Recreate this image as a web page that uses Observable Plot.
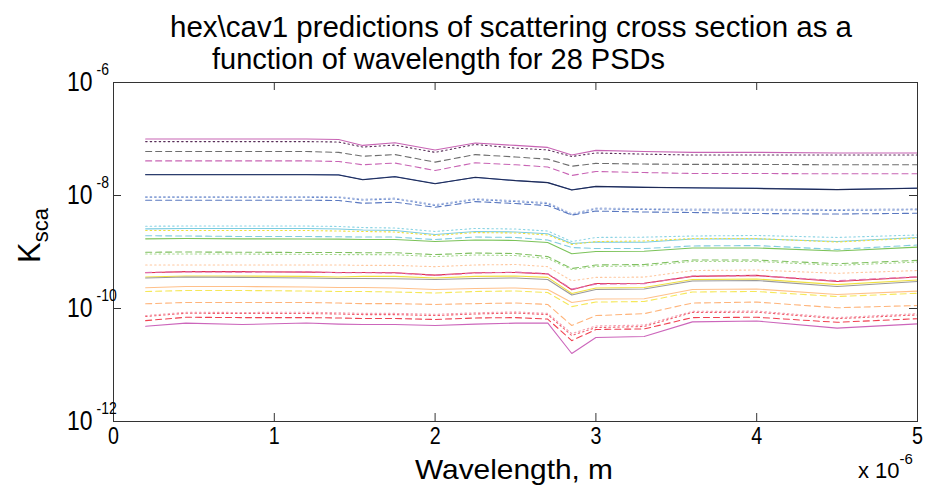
<!DOCTYPE html>
<html><head><meta charset="utf-8">
<script src="https://cdn.jsdelivr.net/npm/d3@7"></script>
<script src="https://cdn.jsdelivr.net/npm/@observablehq/plot@0.6"></script>
<style>body{margin:0;background:#fff;} svg{display:block}</style>
</head><body><div id="chart"></div>
<script>
// ---------- texts ----------
const titleLines = ["hex\\cav1 predictions of scattering cross section as a", "function of wavelength for 28 PSDs"];
const xLabel = "Wavelength, m";
const xMultiplier = ["x 10", "-6"];
const yLabel = ["K", "sca"];

// ---------- ticks ----------
const xTicks = [0, 1e-6, 2e-6, 3e-6, 4e-6, 5e-6];
const yTicks = [1e-12, 1e-10, 1e-8, 1e-6];

// ---------- data: wavelength (micrometres) and K_sca for 28 PSDs ----------
const wavelengthUm = [0.2, 0.45, 0.8, 1.2, 1.4, 1.55, 1.75, 2.0, 2.25, 2.5, 2.7, 2.85, 3.0, 3.3, 3.6, 4.0, 4.5, 5.0];

const psd01 = [1.0e-7,1.0e-7,1.0e-7,1.0e-7,9.8e-8,7.7e-8,8.6e-8,6.4e-8,8.5e-8,7.7e-8,7.1e-8,5.2e-8,6.3e-8,6.0e-8,5.8e-8,5.8e-8,5.65e-8,5.65e-8];
const psd02 = [9.0e-8,9.0e-8,9.0e-8,9.0e-8,8.85e-8,7.2e-8,7.8e-8,5.8e-8,8.0e-8,6.9e-8,6.4e-8,4.9e-8,5.65e-8,5.4e-8,5.2e-8,5.2e-8,5.2e-8,5.2e-8];
const psd03 = [6.0e-8,6.0e-8,6.0e-8,6.0e-8,5.8e-8,4.95e-8,5.3e-8,3.9e-8,5.3e-8,4.8e-8,4.4e-8,3.3e-8,3.7e-8,3.6e-8,3.55e-8,3.55e-8,3.5e-8,3.5e-8];
const psd04 = [4.1e-8,4.1e-8,4.1e-8,4.1e-8,4.0e-8,3.5e-8,3.75e-8,2.77e-8,3.8e-8,3.5e-8,3.2e-8,2.26e-8,2.66e-8,2.55e-8,2.45e-8,2.45e-8,2.42e-8,2.42e-8];
const psd05 = [2.35e-8,2.35e-8,2.35e-8,2.35e-8,2.33e-8,1.92e-8,2.17e-8,1.63e-8,2.08e-8,1.84e-8,1.70e-8,1.26e-8,1.44e-8,1.40e-8,1.36e-8,1.35e-8,1.28e-8,1.35e-8];
const psd06 = [2.33e-8,2.33e-8,2.33e-8,2.33e-8,2.3e-8,1.9e-8,2.15e-8,1.61e-8,2.1e-8,1.83e-8,1.69e-8,1.25e-8,1.45e-8,1.39e-8,1.37e-8,1.33e-8,1.27e-8,1.34e-8];
const psd07 = [9.3e-9,9.3e-9,9.3e-9,9.3e-9,9.2e-9,8.3e-9,8.7e-9,6.65e-9,8.5e-9,7.8e-9,7.2e-9,4.55e-9,5.8e-9,5.65e-9,5.55e-9,5.55e-9,5.45e-9,5.6e-9];
const psd08 = [9.6e-9,9.6e-9,9.6e-9,9.6e-9,9.5e-9,8.6e-9,9.0e-9,6.9e-9,8.8e-9,8.1e-9,7.5e-9,4.75e-9,6.0e-9,5.85e-9,5.75e-9,5.75e-9,5.65e-9,5.8e-9];
const psd09 = [8.25e-9,8.25e-9,8.25e-9,8.25e-9,8.15e-9,7.3e-9,7.6e-9,6.2e-9,7.8e-9,7.2e-9,6.65e-9,4.5e-9,5.3e-9,5.1e-9,5.0e-9,4.8e-9,4.7e-9,4.85e-9];
const psd10 = [2.86e-9,2.88e-9,2.88e-9,2.88e-9,2.83e-9,2.71e-9,2.66e-9,2.31e-9,2.61e-9,2.55e-9,2.35e-9,1.53e-9,1.81e-9,1.83e-9,1.92e-9,1.96e-9,1.81e-9,2.0e-9];
const psd11 = [2.57e-9,2.6e-9,2.6e-9,2.6e-9,2.55e-9,2.45e-9,2.4e-9,2.04e-9,2.31e-9,2.26e-9,2.1e-9,1.41e-9,1.5e-9,1.49e-9,1.7e-9,1.71e-9,1.53e-9,1.81e-9];
const psd12 = [2.4e-9,2.4e-9,2.4e-9,2.4e-9,2.35e-9,2.31e-9,2.26e-9,1.96e-9,2.21e-9,2.17e-9,2.0e-9,1.36e-9,1.53e-9,1.57e-9,1.73e-9,1.73e-9,1.5e-9,1.77e-9];
const psd13 = [1.94e-9,1.92e-9,1.88e-9,1.88e-9,1.86e-9,1.84e-9,1.84e-9,1.66e-9,1.84e-9,1.81e-9,1.63e-9,1.2e-9,1.15e-9,1.15e-9,1.28e-9,1.3e-9,1.11e-9,1.33e-9];
const psd14 = [1.71e-9,1.73e-9,1.71e-9,1.7e-9,1.69e-9,1.66e-9,1.66e-9,1.53e-9,1.63e-9,1.6e-9,1.47e-9,9.3e-10,1.02e-9,1.03e-9,1.18e-9,1.18e-9,1.04e-9,1.22e-9];
const psd15 = [9.9e-10,1.0e-9,9.9e-10,9.8e-10,9.8e-10,9.7e-10,9.7e-10,9.0e-10,9.6e-10,9.4e-10,8.3e-10,5.1e-10,5.9e-10,6.0e-10,7.2e-10,7.2e-10,6.2e-10,7.1e-10];
const psd16 = [9.2e-10,9.2e-10,9.2e-10,9.1e-10,9.0e-10,9.0e-10,8.95e-10,8.3e-10,8.85e-10,8.65e-10,7.7e-10,4.9e-10,5.55e-10,5.65e-10,6.8e-10,6.8e-10,5.8e-10,6.65e-10];
const psd17 = [5.9e-10,5.9e-10,5.9e-10,5.9e-10,5.9e-10,5.8e-10,5.8e-10,5.5e-10,5.9e-10,6.0e-10,5.5e-10,3.1e-10,3.55e-10,3.6e-10,4.7e-10,4.8e-10,4.2e-10,4.7e-10];
const psd18 = [4.3e-10,4.5e-10,4.5e-10,4.4e-10,4.35e-10,4.35e-10,4.3e-10,3.9e-10,4.3e-10,4.35e-10,4.1e-10,2.14e-10,2.77e-10,2.8e-10,3.7e-10,3.85e-10,3.0e-10,3.6e-10];
const psd19 = [4.35e-10,4.45e-10,4.4e-10,4.45e-10,4.3e-10,4.3e-10,4.25e-10,3.85e-10,4.25e-10,4.4e-10,4.15e-10,2.2e-10,2.7e-10,2.75e-10,3.75e-10,3.8e-10,3.1e-10,3.65e-10];
const psd20 = [3.6e-10,3.75e-10,3.75e-10,3.7e-10,3.6e-10,3.7e-10,3.7e-10,3.47e-10,3.7e-10,3.75e-10,3.55e-10,1.84e-10,2.3e-10,2.35e-10,3.25e-10,3.33e-10,2.65e-10,3.2e-10];
const psd21 = [3.47e-10,3.6e-10,3.55e-10,3.47e-10,3.4e-10,3.4e-10,3.36e-10,3.26e-10,3.4e-10,3.47e-10,3.26e-10,1.73e-10,2.17e-10,2.21e-10,3.07e-10,3.13e-10,2.45e-10,3.0e-10];
const psd22 = [2.33e-10,2.45e-10,2.45e-10,2.4e-10,2.35e-10,2.35e-10,2.31e-10,2.17e-10,2.26e-10,2.31e-10,2.17e-10,1.28e-10,1.47e-10,1.49e-10,2.17e-10,2.21e-10,1.77e-10,2.03e-10];
const psd23 = [2.0e-10,2.08e-10,2.08e-10,2.04e-10,2.0e-10,2.0e-10,1.96e-10,1.88e-10,2.0e-10,2.04e-10,1.92e-10,1.08e-10,1.3e-10,1.33e-10,1.96e-10,2.0e-10,1.63e-10,1.86e-10];
const psd24 = [1.21e-10,1.28e-10,1.28e-10,1.28e-10,1.25e-10,1.22e-10,1.22e-10,1.18e-10,1.22e-10,1.25e-10,1.18e-10,5.0e-11,7.5e-11,8.1e-11,1.25e-10,1.3e-10,1.03e-10,1.13e-10];
const psd25 = [7.5e-11,8.6e-11,8.5e-11,8.6e-11,8.4e-11,8.2e-11,8.2e-11,7.9e-11,8.4e-11,8.7e-11,8.2e-11,3.6e-11,4.9e-11,5.1e-11,8.9e-11,9.0e-11,6.9e-11,8.1e-11];
const psd26 = [7.2e-11,8.25e-11,8.15e-11,8.15e-11,8.0e-11,7.8e-11,7.8e-11,7.5e-11,8.0e-11,8.3e-11,7.8e-11,3.33e-11,4.6e-11,4.8e-11,8.5e-11,8.6e-11,6.6e-11,7.7e-11];
const psd27 = [6.1e-11,7.0e-11,6.9e-11,6.9e-11,6.8e-11,6.65e-11,6.65e-11,6.4e-11,6.8e-11,6.9e-11,6.5e-11,2.7e-11,4.25e-11,4.35e-11,6.9e-11,7.0e-11,5.7e-11,6.6e-11];
const psd28 = [4.86e-11,5.5e-11,5.2e-11,5.55e-11,5.3e-11,5.2e-11,5.2e-11,5.0e-11,5.3e-11,5.5e-11,5.55e-11,1.6e-11,3.07e-11,3.2e-11,5.8e-11,6.0e-11,4.5e-11,5.35e-11];

// line styles (colour, dash pattern) per PSD
const DASH = "6,4", DOT = "1.5,3", SOLID = null;
const series = [
  [psd01, "#c864b4", SOLID], [psd02, "#5a305a", DOT], [psd03, "#6e6e6e", DASH], [psd04, "#c864b4", DASH],
  [psd05, "#5a78bb", SOLID], [psd06, "#1e2a55", SOLID], [psd07, "#6688cc", DOT], [psd08, "#a8b8e0", DOT],
  [psd09, "#5a78c0", DASH], [psd10, "#8cd4e4", DOT], [psd11, "#7acce0", SOLID], [psd12, "#f0e040", DOT],
  [psd13, "#80cce0", DASH], [psd14, "#7cc35a", SOLID], [psd15, "#80c060", DASH], [psd16, "#a8d890", DOT],
  [psd17, "#ffc8a0", DOT], [psd18, "#e0304a", SOLID], [psd19, "#e070b0", DASH], [psd20, "#f0e040", SOLID],
  [psd21, "#9a9a9a", SOLID], [psd22, "#ffc08a", SOLID], [psd23, "#f5e85a", DASH], [psd24, "#ffb47a", DASH],
  [psd25, "#f4a0b0", DOT], [psd26, "#f06070", DOT], [psd27, "#f04050", DASH], [psd28, "#cc66bb", SOLID]
];

// ---------- layout ----------
const W = 927, H = 485, mL = 113, mR = 10, mT = 82, mB = 64;
const plotW = W - mL - mR, plotH = H - mT - mB;
const axisColor = "#333";
const font = "'Liberation Sans', Arial, sans-serif";

const lineMarks = series.map(([vals, color, dash]) =>
  Plot.line(wavelengthUm.map((w, i) => ({x: w * 1e-6, y: vals[i]})),
    {x: "x", y: "y", stroke: color, strokeWidth: 1.1, strokeDasharray: dash})
);

const chart = Plot.plot({
  width: W, height: H,
  marginLeft: mL, marginRight: mR, marginTop: mT, marginBottom: mB,
  x: {domain: [0, 5e-6]},
  y: {type: "log", domain: [1e-12, 1e-6]},
  style: {fontFamily: font, fontSize: "26px", color: "#000", background: "#fff"},
  marks: [
    ...lineMarks,
    Plot.frame({stroke: axisColor}),
    Plot.tickX(xTicks, {x: d => d, insetTop: plotH - 8, stroke: axisColor}),
    Plot.tickX(xTicks, {x: d => d, insetBottom: plotH - 8, stroke: axisColor}),
    Plot.tickY(yTicks, {y: d => d, insetRight: plotW - 8, stroke: axisColor}),
    Plot.tickY(yTicks, {y: d => d, insetLeft: plotW - 8, stroke: axisColor}),
    Plot.axisX({ticks: xTicks, tickSize: 0, tickPadding: 5, tickFormat: d => String(Math.round(d * 1e6)), label: null, fontSize: 24}),
    Plot.axisY({ticks: yTicks, tickSize: 0, tickPadding: 21, tickFormat: () => "10", label: null, fontSize: 28}),
    Plot.text(yTicks, {y: d => d, frameAnchor: "left", text: d => String(Math.round(Math.log10(d))),
      textAnchor: "start", dx: -17, dy: -13, fontSize: 17})
  ]
});
document.getElementById("chart").appendChild(chart);

// horizontal condensing of the axis tick labels (the reference font is narrow)
d3.select(chart).selectAll("g[aria-label$='tick label'] text, g[aria-label='text'] text").each(function () {
  const len = this.getComputedTextLength();
  if (len > 0) d3.select(this).attr("textLength", len * 0.82).attr("lengthAdjust", "spacingAndGlyphs");
});

// ---------- titles and axis labels ----------
const svg = d3.select(chart);
svg.append("text").attr("x", 511).attr("y", 37).attr("text-anchor", "middle")
  .attr("font-family", font).attr("font-size", 30)
  .attr("textLength", 682).attr("lengthAdjust", "spacingAndGlyphs").text(titleLines[0]);
svg.append("text").attr("x", 212).attr("y", 69).attr("text-anchor", "start")
  .attr("font-family", font).attr("font-size", 30)
  .attr("textLength", 453).attr("lengthAdjust", "spacingAndGlyphs").text(titleLines[1]);
svg.append("text").attr("x", 514).attr("y", 479).attr("text-anchor", "middle")
  .attr("font-family", font).attr("font-size", 28)
  .attr("textLength", 198).attr("lengthAdjust", "spacingAndGlyphs").text(xLabel);
const xm = svg.append("text").attr("x", 858).attr("y", 478).attr("text-anchor", "start")
  .attr("font-family", font).attr("font-size", 22);
xm.append("tspan").text(xMultiplier[0]);
xm.append("tspan").attr("dy", -14).attr("font-size", 15).text(xMultiplier[1]);
const yl = svg.append("text").attr("transform", "translate(40,263) rotate(-90)").attr("text-anchor", "start")
  .attr("font-family", font).attr("font-size", 31);
yl.append("tspan").text(yLabel[0]);
yl.append("tspan").attr("dy", 8).attr("font-size", 22).text(yLabel[1]);
</script>
</body></html>
